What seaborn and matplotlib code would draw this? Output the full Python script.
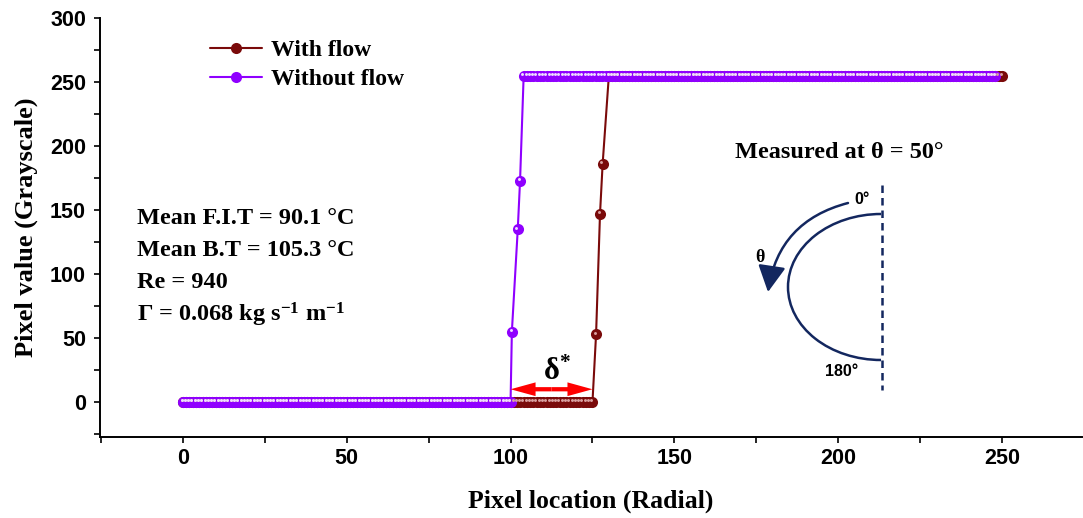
import numpy as np
import pandas as pd
import matplotlib
matplotlib.use("Agg")
import matplotlib.pyplot as plt
import seaborn as sns
from matplotlib import transforms
from matplotlib.patches import Arc, FancyArrowPatch
from matplotlib.lines import Line2D

# ---------------- data ----------------
LOW_VALUE = 0
HIGH_VALUE = 255

with_low_x = np.arange(0, 126)          # radial pixels held at 0
with_trans_x = [126.1, 127.3, 128.1]
with_trans_y = [53, 147, 186]
with_high_x = np.arange(130, 251)       # radial pixels held at 255

wo_low_x = np.arange(0, 101)
wo_trans_x = [100.4, 102.2, 102.9]
wo_trans_y = [55, 135, 173]
wo_high_x = np.arange(104, 249)

series_names = ["With flow", "Without flow"]
series_colors = {"With flow": "#7a0a0a", "Without flow": "#8f00ff"}
highlight_colors = {"With flow": "#d9a0a0", "Without flow": "#eedcff"}

delta_start, delta_end = 100, 125
x_ticks = [0, 50, 100, 150, 200, 250]
y_ticks = [0, 50, 100, 150, 200, 250, 300]


def build(low_x, tx, ty, high_x, name):
    x = list(low_x) + list(tx) + list(high_x)
    y = [LOW_VALUE] * len(low_x) + list(ty) + [HIGH_VALUE] * len(high_x)
    return pd.DataFrame({"x": x, "y": y, "series": name})


df = pd.concat([
    build(with_low_x, with_trans_x, with_trans_y, with_high_x, "With flow"),
    build(wo_low_x, wo_trans_x, wo_trans_y, wo_high_x, "Without flow"),
], ignore_index=True)

# ---------------- figure ----------------
sns.set_theme(style="ticks")
plt.rcParams["font.family"] = ["Liberation Serif", "DejaVu Serif"]
plt.rcParams["mathtext.fontset"] = "custom"
plt.rcParams["mathtext.rm"] = "Liberation Serif:bold"
plt.rcParams["mathtext.bf"] = "Liberation Serif:bold"
plt.rcParams["mathtext.it"] = "Liberation Serif:bold:italic"
for k in ["text.color", "axes.labelcolor", "xtick.color", "ytick.color", "axes.edgecolor"]:
    plt.rcParams[k] = "black"

W, H = 1083, 518
fig = plt.figure(figsize=(W / 100, H / 100), dpi=100)
ax = fig.add_axes([100 / W, 1 - 437 / H, (W - 100 - 1) / W, (437 - 18) / H])

hl_trans = transforms.offset_copy(ax.transData, fig=fig, x=-1.3, y=1.7, units="dots")

for name in series_names:
    sub = df[df["series"] == name]
    sns.lineplot(data=sub, x="x", y="y", color=series_colors[name], sort=False,
                 estimator=None, marker="o", markersize=8, markeredgewidth=0,
                 lw=1.5, ax=ax, legend=False)
    sns.scatterplot(data=sub, x="x", y="y", color=highlight_colors[name], s=4.5,
                    linewidth=0, ax=ax, legend=False, transform=hl_trans, zorder=3)

ax.set_xticks(x_ticks)
ax.set_yticks(y_ticks)
ax.set_xticks([t + 25 for t in [-50] + x_ticks], minor=True)
ax.set_yticks([t - 25 for t in y_ticks], minor=True)
ax.set_xlim(-25.3, 274.4)
ax.set_ylim(-27.3, 300)

for s in ["top", "right"]:
    ax.spines[s].set_visible(False)
for s in ["left", "bottom"]:
    ax.spines[s].set_linewidth(1.4)
    ax.spines[s].set_color("black")

ax.tick_params(which="major", direction="out", length=4, width=1.2, pad=4, colors="black")
ax.tick_params(axis="y", which="major", pad=6)
ax.tick_params(which="minor", direction="out", length=4, width=1.2, colors="black")
for lab in ax.get_xticklabels() + ax.get_yticklabels():
    lab.set_fontfamily("Liberation Sans")
    lab.set_fontweight("bold")
    lab.set_fontsize(15.5)

ax.set_xlabel("Pixel location (Radial)", fontsize=18.5, fontweight="bold", labelpad=15)
ax.set_ylabel("Pixel value (Grayscale)", fontsize=19, fontweight="bold", labelpad=9)
ax.grid(False)

# legend
handles = [Line2D([0], [0], color=series_colors[n], lw=1.5, marker="o", markersize=8,
                  markeredgewidth=0) for n in series_names]
leg = ax.legend(handles, series_names, loc="upper left", bbox_to_anchor=(0.090, 1.0),
                frameon=False, prop={"family": "Liberation Serif", "weight": "bold", "size": 17},
                handlelength=2.2, labelspacing=0.33, handletextpad=0.4)

# delta* double arrow: two filled "simple" arrows from the midpoint outward
delta_mid = (delta_start + delta_end) / 2
for end in (delta_start, delta_end):
    ax.add_patch(FancyArrowPatch((delta_mid, 10), (end, 10),
                                 arrowstyle="simple,head_length=1.0,head_width=0.55,tail_width=0.17",
                                 color="red", lw=0, mutation_scale=18,
                                 shrinkA=0, shrinkB=0, zorder=4))
ax.text(delta_mid + 1.8, 12, r"δ$^{*}$", ha="center", va="bottom",
        fontsize=22, fontweight="bold")

# parameters text
info = ["Mean F.I.T = 90.1 °C", "Mean B.T = 105.3 °C", "Re = 940",
        r"Γ = 0.068 kg s$^{\mathbf{-1}}$ m$^{\mathbf{-1}}$"]
for i, t in enumerate(info):
    fig.text(137 / W, 1 - (219 + 32 * i) / H, t, fontsize=17.5, fontweight="bold",
             ha="left", va="center")

fig.text(735 / W, 1 - 152 / H, "Measured at θ = 50°", fontsize=17.5, fontweight="bold",
         ha="left", va="center")

# ---------------- schematic inset ----------------
navy = "#13275f"
iax = fig.add_axes([745 / W, 1 - 395 / H, 155 / W, 215 / H])
iax.set_xlim(745, 900)
iax.set_ylim(395, 180)
iax.axis("off")
iax.add_patch(Arc((881, 287), 186, 146, theta1=90, theta2=270, color=navy, lw=1.8))
iax.plot([882, 882], [185, 390], color=navy, lw=1.8, ls=(0, (3, 2)))
arr = FancyArrowPatch((848, 203), (768, 292), connectionstyle="arc3,rad=0.33",
                      arrowstyle="-|>,head_length=0.95,head_width=0.5",
                      mutation_scale=17, color=navy, lw=1.8, shrinkA=0, shrinkB=0)
iax.add_patch(arr)
iax.text(862, 199, "0°", fontfamily="Liberation Sans", fontweight="bold", fontsize=11.5,
         ha="center", va="center")
iax.text(760, 258, "θ", fontweight="bold", fontsize=13, ha="center", va="center")
iax.text(842, 371, "180°", fontfamily="Liberation Sans", fontweight="bold", fontsize=11.5,
         ha="center", va="center")

fig.savefig("out.png", dpi=100)
